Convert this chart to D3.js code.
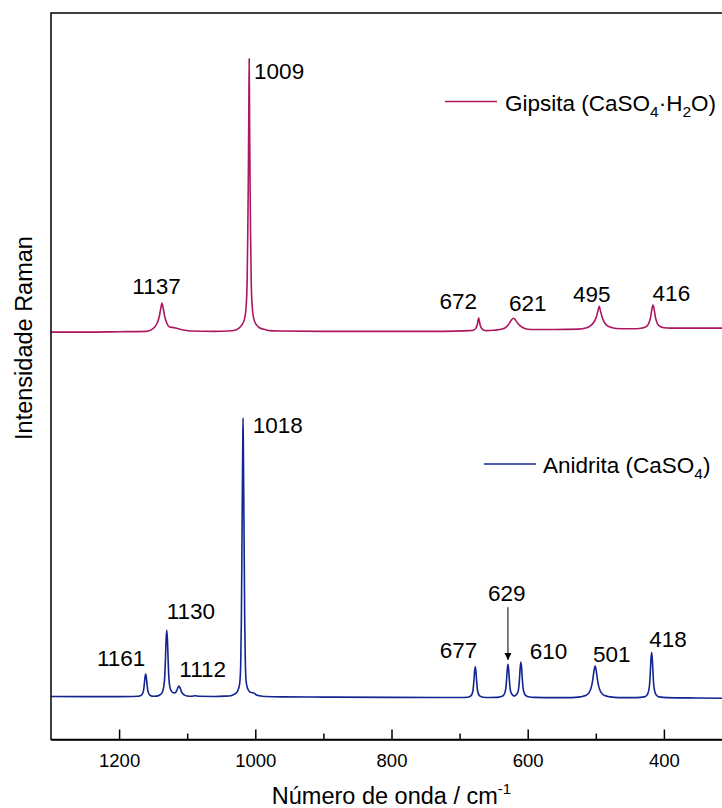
<!DOCTYPE html>
<html>
<head>
<meta charset="utf-8">
<script src="https://cdn.jsdelivr.net/npm/d3@7"></script>
<style>
  body { margin: 0; background: #fff; }
  svg { display: block; font-family: "Liberation Sans", Arial, sans-serif; }
</style>
</head>
<body>
<div id="chart"></div>
<script>
const gipsitaColor = '#ad1660';
const anidritaColor = '#132590';

// spectra: [wavenumber cm-1, intensity a.u.]
const gipsita = [
  [1300, 560.5], [1250, 560.5], [1200, 561], [1160, 561.5], [1153, 563.5], [1148, 567], [1144, 573],
  [1141, 582], [1139, 592], [1137, 600.5], [1135, 592], [1133, 582], [1130, 573], [1126, 567.5],
  [1122, 567], [1117, 566], [1109, 564], [1095, 562], [1060, 561.5], [1040, 562], [1030, 563],
  [1024, 566], [1020, 570], [1016, 578], [1013.5, 595], [1012, 630], [1011, 700], [1010, 800],
  [1009.5, 870], [1009, 937], [1008.5, 870], [1008, 800], [1007, 700], [1006, 630], [1004.5, 595],
  [1002, 578], [998, 570], [994, 566.5], [988, 564.5], [979, 562.5], [965, 562], [900, 561.5],
  [800, 561.5], [725, 561.5], [685, 562.5], [679, 563.5], [676, 566], [674, 571], [673, 576],
  [672, 580], [671, 576], [670, 571], [668, 566], [665, 563.5], [660, 562.5], [650, 563],
  [645, 563.5], [636, 565], [631, 568], [627, 572.5], [624, 577], [621, 579.5], [618, 577],
  [615, 573], [611, 569], [606, 566], [600, 564.5], [590, 564], [560, 564], [525, 564.5],
  [515, 566], [508, 569], [503, 574], [499, 582], [497, 589], [495, 596], [493, 589], [491, 582],
  [488, 575], [484, 570], [478, 567], [470, 565.5], [455, 565], [440, 565], [432, 566], [426, 568],
  [422, 573], [419.5, 581], [418, 590], [416, 597.8], [414, 590], [412.5, 581], [410, 573],
  [406, 568.5], [400, 566.5], [390, 566], [360, 566], [330, 566], [300, 566]
];

const anidrita = [
  [1300, 58.5], [1250, 58.3], [1200, 58.3], [1180, 58.5], [1172, 58.8], [1168, 59.9], [1165.5, 62.7],
  [1164, 67.5], [1163, 75.3], [1162, 84.8], [1161, 89.5], [1160, 84.8], [1159, 75.3], [1158, 67.5],
  [1156.5, 62.7], [1154, 59.9], [1150, 58.8], [1145, 59], [1141, 60.3], [1137, 63.5], [1134.5, 71.8],
  [1133, 85.6], [1132, 108.6], [1131, 136.2], [1130, 150], [1129, 136.2], [1128, 108.6], [1127, 85.6],
  [1125.5, 71.8], [1123, 65.5], [1119, 63.5], [1117, 64], [1115, 67.5], [1113.5, 71], [1112, 73],
  [1110.5, 70.5], [1109, 66.5], [1107, 63], [1104, 60.5], [1100, 59.3], [1094, 58.8], [1088, 59.5],
  [1083, 58.8], [1060, 58.6], [1045, 59], [1036, 59.5], [1030, 62], [1026, 66], [1023, 76],
  [1021.5, 100], [1020.5, 160], [1019.5, 280], [1018.5, 400], [1018, 442], [1017.5, 400],
  [1016.5, 280], [1015.5, 160], [1014.5, 100], [1013, 76], [1010, 67], [1006, 64], [1002, 63.5],
  [999, 61], [994, 59.5], [985, 58.5], [960, 58], [900, 57.7], [800, 57.3], [700, 57.2],
  [688, 57.6], [684, 59], [681.5, 62.5], [680, 69.5], [679, 80], [678, 93], [677, 99.5], [676, 93],
  [675, 80], [674, 69.5], [672.5, 62.5], [670, 59], [666, 57.6], [655, 57.2], [645, 57.4],
  [640, 58.2], [636, 59.8], [633.5, 63.9], [632, 70.8], [631, 82.3], [630, 96.1], [629, 103],
  [628, 96.1], [627, 82.3], [626, 70.8], [624.5, 63.9], [622, 60.5], [619.5, 59.2], [617, 60.8],
  [614.5, 64.4], [613, 71.7], [612, 84], [611, 98.7], [610, 106], [609, 98.7], [608, 84],
  [607, 71.7], [605.5, 64.4], [603, 60], [599, 58.2], [590, 57.3], [560, 57], [536, 57],
  [523, 58], [515, 59.8], [510, 63.8], [507, 70.1], [505, 78.5], [504, 84.7], [502.5, 95],
  [501, 100.5], [499.5, 95], [498, 84.7], [497, 78.5], [495, 70.1], [492, 63.8], [487, 59.8],
  [479, 58], [466, 57], [440, 57], [429, 58], [425, 60.3], [422.5, 66], [421, 75.4], [420, 91.2],
  [419, 110], [418, 119.4], [417, 110], [416, 91.2], [415, 75.4], [413.5, 66], [411, 60.3],
  [407, 58], [395, 57], [350, 56.5], [300, 56]
];

// peak labels: [text, wavenumber at text centre, intensity at text baseline]
const gipsitaLabels = [
  ['1137', 1145, 612.5], ['1009', 965, 909], ['672', 702, 592],
  ['621', 600, 589.5], ['495', 506, 602.3], ['416', 389, 603.7]
];
const anidritaLabels = [
  ['1161', 1197, 100.6], ['1130', 1094.6, 164.9], ['1112', 1077.2, 85.8], ['1018', 967, 421.9],
  ['677', 701.5, 111.2], ['629', 630.8, 190.5], ['610', 569.3, 109.8], ['501', 476.4, 105.6],
  ['418', 394.1, 127.1]
];
// arrow pointing at 629: [wavenumber, from intensity, to intensity]
const arrow629 = [629, 181.5, 108.8];

const majorTicks = [1200, 1000, 800, 600, 400];
const minorTicks = [1100, 900, 700, 500, 300];

const width = 722, height = 808;
const margin = {top: 13, left: 51, bottom: 739.5, right: 732};

const svg = d3.select('#chart').append('svg')
  .attr('width', width)
  .attr('height', height);

const x = d3.scaleLinear().domain([1300, 300]).range([margin.left, margin.right]);
const y = d3.scaleLinear().domain([0, 1000]).range([739, 13]);

// spectra
const line = d3.line()
  .x(d => x(d[0]))
  .y(d => y(d[1]))
  .curve(d3.curveMonotoneX);

svg.append('path')
  .datum(gipsita)
  .attr('fill', 'none')
  .attr('stroke', gipsitaColor)
  .attr('stroke-width', 1.6)
  .attr('d', line);

svg.append('path')
  .datum(anidrita)
  .attr('fill', 'none')
  .attr('stroke', anidritaColor)
  .attr('stroke-width', 1.6)
  .attr('d', line);

// frame
svg.append('rect')
  .attr('x', margin.left)
  .attr('y', margin.top)
  .attr('width', margin.right - margin.left)
  .attr('height', margin.bottom - margin.top)
  .attr('fill', 'none')
  .attr('stroke', '#000')
  .attr('stroke-width', 1.5);

// x axis, ticks pointing inward
const xAxis = svg.append('g')
  .attr('transform', `translate(0,${margin.bottom})`)
  .call(d3.axisBottom(x).tickValues(majorTicks).tickSizeInner(-10).tickSizeOuter(0).tickPadding(14).tickFormat(d3.format('d')));
xAxis.select('.domain').attr('stroke-width', 1.5);
xAxis.selectAll('.tick line').attr('stroke-width', 1.5);
xAxis.selectAll('text')
  .attr('font-size', 18.5)
  .attr('font-family', '"Liberation Sans", Arial, sans-serif')
  .attr('fill', '#000');

const xMinor = svg.append('g')
  .attr('transform', `translate(0,${margin.bottom})`)
  .call(d3.axisBottom(x).tickValues(minorTicks).tickSizeInner(-6).tickSizeOuter(0).tickFormat(''));
xMinor.select('.domain').remove();
xMinor.selectAll('.tick line').attr('stroke-width', 1.5);

// axis titles
const xTitle = svg.append('text')
  .attr('x', (margin.left + margin.right) / 2)
  .attr('y', 804)
  .attr('text-anchor', 'middle')
  .attr('font-size', 23.5);
xTitle.append('tspan').text('Número de onda / cm');
xTitle.append('tspan').attr('font-size', 15).attr('dy', -10).text('-1');

svg.append('text')
  .attr('transform', 'translate(32,338) rotate(-90)')
  .attr('text-anchor', 'middle')
  .attr('font-size', 23.5)
  .text('Intensidade Raman');

// peak labels
const allLabels = gipsitaLabels.concat(anidritaLabels);
svg.selectAll('.peak-label')
  .data(allLabels)
  .join('text')
  .attr('class', 'peak-label')
  .attr('x', d => x(d[1]))
  .attr('y', d => y(d[2]))
  .attr('text-anchor', 'middle')
  .attr('font-size', 22.5)
  .text(d => d[0]);

// arrow for 629
svg.append('defs').append('marker')
  .attr('id', 'arrowhead')
  .attr('viewBox', '0 0 10 10')
  .attr('refX', 10)
  .attr('refY', 5)
  .attr('markerWidth', 10)
  .attr('markerHeight', 7)
  .attr('markerUnits', 'userSpaceOnUse')
  .attr('orient', 'auto')
  .append('path')
  .attr('d', 'M0,0 L10,5 L0,10 Z')
  .attr('fill', '#000');

svg.append('line')
  .attr('x1', x(arrow629[0]))
  .attr('x2', x(arrow629[0]))
  .attr('y1', y(arrow629[1]))
  .attr('y2', y(arrow629[2]))
  .attr('stroke', '#000')
  .attr('stroke-width', 1)
  .attr('marker-end', 'url(#arrowhead)');

// legends
svg.append('line')
  .attr('x1', 445).attr('x2', 497)
  .attr('y1', 101.5).attr('y2', 101.5)
  .attr('stroke', gipsitaColor)
  .attr('stroke-width', 1.6);
const gLeg = svg.append('text')
  .attr('x', 505)
  .attr('y', 111)
  .attr('font-size', 22.5);
gLeg.append('tspan').text('Gipsita (CaSO');
gLeg.append('tspan').attr('font-size', 15.5).attr('dy', 6).text('4');
gLeg.append('tspan').attr('dy', -6).text('·H');
gLeg.append('tspan').attr('font-size', 15.5).attr('dy', 6).text('2');
gLeg.append('tspan').attr('dy', -6).text('O)');

svg.append('line')
  .attr('x1', 484).attr('x2', 536)
  .attr('y1', 464).attr('y2', 464)
  .attr('stroke', anidritaColor)
  .attr('stroke-width', 1.6);
const aLeg = svg.append('text')
  .attr('x', 543)
  .attr('y', 472.5)
  .attr('font-size', 22.5);
aLeg.append('tspan').text('Anidrita (CaSO');
aLeg.append('tspan').attr('font-size', 15.5).attr('dy', 6).text('4');
aLeg.append('tspan').attr('dy', -6).text(')');
</script>
</body>
</html>
